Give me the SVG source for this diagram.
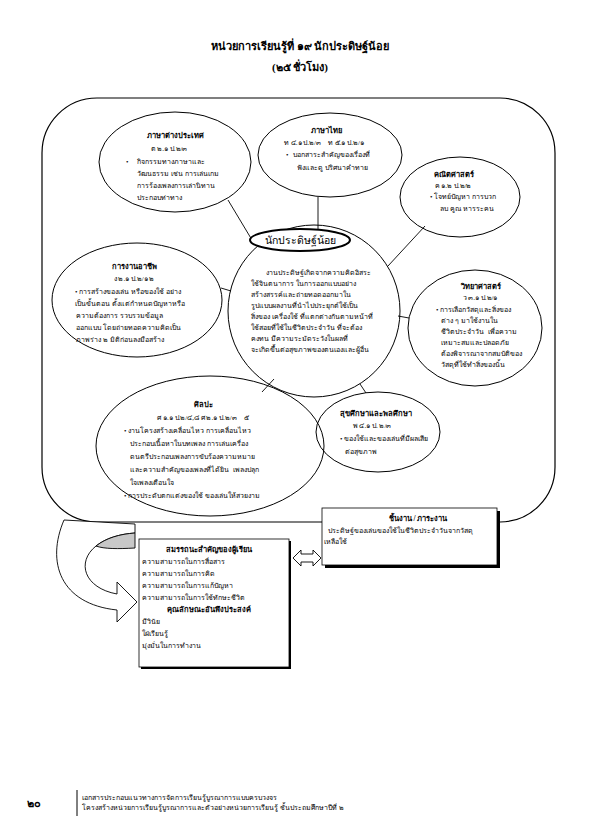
<svg xmlns="http://www.w3.org/2000/svg" width="595" height="836" viewBox="0 0 595 836">
<style>
text{font-family:"Liberation Serif","DejaVu Serif",serif;fill:#000}
.h{font-size:11px;font-weight:bold;text-anchor:middle}
.t{font-size:7.5px;font-weight:bold;text-anchor:middle}
.c{font-size:7px;text-anchor:middle}
.b{font-size:7px}
.m{font-size:10.5px;text-anchor:middle}
.f{font-size:7px}
.sh{fill:none;stroke:#000;stroke-width:1}
.ln{fill:none;stroke:#000;stroke-width:0.9}
</style>
<rect width="595" height="836" fill="#fff"/>
<g id="title">
<text class="h" x="300" y="50">หน่วยการเรียนรู้ที่ ๑๙ นักประดิษฐ์น้อย</text>
<text class="h" x="300" y="71">(๒๕ ชั่วโมง)</text>
</g>
<g id="frame">
<rect x="42" y="98" width="513" height="424" rx="55" ry="55" fill="#fff" stroke="#000" stroke-width="1.2"/>
</g>
<g id="connectors">
<line class="ln" x1="228" y1="200" x2="252" y2="240"/>
<line class="ln" x1="318" y1="197" x2="318" y2="229"/>
<line class="ln" x1="388" y1="266" x2="425" y2="226"/>
<line class="ln" x1="221" y1="288" x2="231" y2="291"/>
<line class="ln" x1="398" y1="316" x2="409" y2="318"/>
<line class="ln" x1="262" y1="392" x2="274" y2="379"/>
<line class="ln" x1="360" y1="384" x2="366" y2="393"/>
</g>
<g id="n-foreign">
<ellipse class="sh" cx="175" cy="162" rx="76" ry="50" fill="#fff"/>
<text class="t" x="175" y="138">ภาษาต่างประเทศ</text>
<text class="c" x="169" y="151">ต ๒.๑ ป.๒/๓</text>
<text class="b" x="126" y="164">•</text>
<text class="b" x="137" y="164">กิจกรรมทางภาษาและ</text>
<text class="b" x="137" y="176">วัฒนธรรม เช่น การเล่นเกม</text>
<text class="b" x="137" y="188">การร้องเพลงการเล่านิทาน</text>
<text class="b" x="137" y="200">ประกอบท่าทาง</text>
</g>
<g id="n-thai">
<ellipse class="sh" cx="330" cy="155" rx="72" ry="42" fill="#fff"/>
<text class="t" x="326" y="133">ภาษาไทย</text>
<text class="c" x="324" y="145" xml:space="preserve">ท ๔.๑ ป.๒/๓    ท ๕.๑ ป.๒/๑</text>
<text class="b" x="286" y="157">•</text>
<text class="b" x="293" y="157">บอกสาระสำคัญของเรื่องที่</text>
<text class="b" x="297" y="170">ฟังและดู ปริศนาคำทาย</text>
</g>
<g id="n-math">
<ellipse class="sh" cx="460" cy="197" rx="60" ry="40" fill="#fff"/>
<text class="t" x="454" y="177">คณิตศาสตร์</text>
<text class="c" x="453" y="188">ค ๑.๒ ป.๒/๒</text>
<text class="b" x="430" y="199">• โจทย์ปัญหา การบวก</text>
<text class="b" x="440" y="211">ลบ คูณ หารระคน</text>
</g>
<g id="n-career">
<ellipse class="sh" cx="137" cy="300" rx="85" ry="57" fill="#fff"/>
<text class="t" x="134" y="269">การงานอาชีพ</text>
<text class="c" x="134" y="281">ง ๒.๑ ป.๒/๑ ๒</text>
<text class="b" x="75" y="294">• การสร้างของเล่น หรือของใช้ อย่าง</text>
<text class="b" x="75" y="306">เป็นขั้นตอน ตั้งแต่กำหนดปัญหาหรือ</text>
<text class="b" x="76" y="318">ความต้องการ รวบรวมข้อมูล</text>
<text class="b" x="76" y="330">ออกแบบ โดยถ่ายทอดความคิดเป็น</text>
<text class="b" x="76" y="342">ภาพร่าง ๒ มิติก่อนลงมือสร้าง</text>
</g>
<g id="n-center">
<ellipse class="sh" cx="314" cy="311" rx="86" ry="86" fill="#fff"/>
<ellipse cx="300" cy="240" rx="50" ry="11" fill="#fff" stroke="#000" stroke-width="2"/>
<text class="m" x="300" y="244">นักประดิษฐ์น้อย</text>
<text class="b" x="266" y="275">งานประดิษฐ์เกิดจากความคิดอิสระ</text>
<text class="b" x="251" y="286">ใช้จินตนาการ ในการออกแบบอย่าง</text>
<text class="b" x="251" y="297">สร้างสรรค์และถ่ายทอดออกมาใน</text>
<text class="b" x="251" y="308">รูปแบบผลงานที่นำไปประยุกต์ใช้เป็น</text>
<text class="b" x="251" y="319">สิ่งของ เครื่องใช้ ที่แตกต่างกันตามหน้าที่</text>
<text class="b" x="251" y="330">ใช้สอยที่ใช้ในชีวิตประจำวัน ที่จะต้อง</text>
<text class="b" x="251" y="341">คงทน มีความระมัดระวังในผลที่</text>
<text class="b" x="251" y="352">จะเกิดขึ้นต่อสุขภาพของตนเองและผู้อื่น</text>
</g>
<g id="n-science">
<ellipse class="sh" cx="475" cy="328" rx="67" ry="58" fill="#fff"/>
<text class="t" x="481" y="289">วิทยาศาสตร์</text>
<text class="c" x="480" y="300">ว ๓.๑ ป.๒/๑</text>
<text class="b" x="436" y="312">• การเลือกวัสดุและสิ่งของ</text>
<text class="b" x="441" y="323">ต่าง ๆ มาใช้งานใน</text>
<text class="b" x="441" y="334" xml:space="preserve">ชีวิตประจำวัน  เพื่อความ</text>
<text class="b" x="441" y="345">เหมาะสมและปลอดภัย</text>
<text class="b" x="441" y="356">ต้องพิจารณาจากสมบัติของ</text>
<text class="b" x="441" y="367">วัสดุที่ใช้ทำสิ่งของนั้น</text>
</g>
<g id="n-art">
<ellipse class="sh" cx="210" cy="446" rx="114" ry="70" fill="#fff"/>
<text class="t" x="203" y="407">ศิลปะ</text>
<text class="c" x="203" y="420" xml:space="preserve">ศ ๑.๑ ป.๒/๔,๘ ศ ๒.๑ ป.๒/๓    ๕</text>
<text class="b" x="124" y="433">• งานโครงสร้างเคลื่อนไหว การเคลื่อนไหว</text>
<text class="b" x="130" y="446">ประกอบเนื้อหาในบทเพลง การเล่นเครื่อง</text>
<text class="b" x="130" y="459">ดนตรีประกอบเพลงการขับร้องความหมาย</text>
<text class="b" x="130" y="472" xml:space="preserve">และความสำคัญของเพลงที่ได้ยิน  เพลงปลุก</text>
<text class="b" x="130" y="485">ใจเพลงเตือนใจ</text>
<text class="b" x="124" y="498">• การประดับตกแต่งของใช้ ของเล่นให้สวยงาม</text>
</g>
<g id="n-health">
<ellipse class="sh" cx="378" cy="432" rx="62" ry="40" fill="#fff"/>
<text class="t" x="376" y="416">สุขศึกษาและพลศึกษา</text>
<text class="c" x="372" y="428">พ ๔.๑ ป. ๒/๓</text>
<text class="b" x="340" y="441">• ของใช้และของเล่นที่มีผลเสีย</text>
<text class="b" x="345" y="454">ต่อสุขภาพ</text>
</g>
<g id="n-task">
<rect x="325" y="511" width="175" height="57" fill="#000"/>
<rect x="322" y="508" width="175" height="57" fill="#fff" stroke="#000" stroke-width="0.8"/>
<text class="t" x="418" y="521">ชิ้นงาน / ภาระงาน</text>
<text class="b" x="328" y="533">ประดิษฐ์ของเล่นของใช้ในชีวิตประจำวันจากวัสดุ</text>
<text class="b" x="324" y="544">เหลือใช้</text>
</g>
<g id="n-competency">
<rect x="141" y="541" width="150" height="128" fill="#000"/>
<rect x="139" y="539" width="150" height="128" fill="#fff" stroke="#000" stroke-width="0.8"/>
<text class="t" x="209" y="552">สมรรถนะสำคัญของผู้เรียน</text>
<text class="b" x="142" y="564">ความสามารถในการสื่อสาร</text>
<text class="b" x="142" y="576">ความสามารถในการคิด</text>
<text class="b" x="142" y="588">ความสามารถในการแก้ปัญหา</text>
<text class="b" x="142" y="600">ความสามารถในการใช้ทักษะชีวิต</text>
<text class="t" x="209" y="612">คุณลักษณะอันพึงประสงค์</text>
<text class="b" x="142" y="624">มีวินัย</text>
<text class="b" x="142" y="636">ใฝ่เรียนรู้</text>
<text class="b" x="142" y="648">มุ่งมั่นในการทำงาน</text>
</g>
<g id="arrows">
<path d="M293,558 L301,550 L301,554 L313,554 L313,550 L321,558 L313,566 L313,562 L301,562 L301,566 Z" fill="#fff" stroke="#000" stroke-width="0.9"/>
<path d="M64,520 C46,562 60,604 117,610 L117,622 L137,602 L117,582 L117,594 C84,588 76,562 96,546 C106,538 120,534 135,533 L135,524 Z" fill="#fff" stroke="#000" stroke-width="0.9"/>
<path d="M96,546 C106,538 120,534 135,533 L135,548 C118,549 104,549 96,546 Z" fill="#c8c8c8" stroke="#000" stroke-width="0.9"/>
</g>
<g id="footer">
<text x="27" y="807" style="font-size:11px;font-weight:bold">๒๐</text>
<line x1="77" y1="790" x2="77" y2="816" stroke="#000" stroke-width="1"/>
<text class="f" x="82" y="800">เอกสารประกอบแนวทางการจัดการเรียนรู้บูรณาการแบบครบวงจร</text>
<text class="f" x="82" y="810">โครงสร้างหน่วยการเรียนรู้บูรณาการและตัวอย่างหน่วยการเรียนรู้ ชั้นประถมศึกษาปีที่ ๒</text>
</g>
</svg>
